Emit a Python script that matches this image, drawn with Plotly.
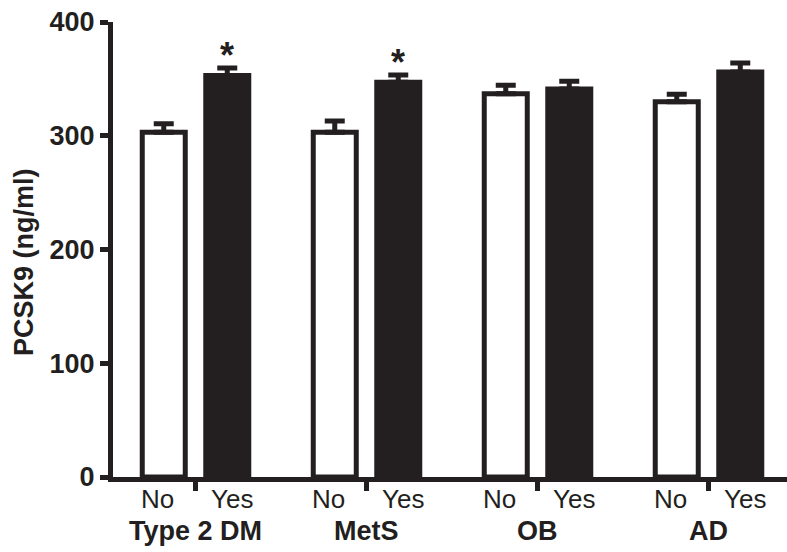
import plotly.graph_objects as go

# ---- data ----
groups = ["Type 2 DM", "MetS", "OB", "AD"]
subgroups = ["No", "Yes"]
no_values = [303, 303, 337, 330]
no_errors = [7.5, 10, 7.5, 6.5]
yes_values = [353, 347, 341, 356]
yes_errors = [6.5, 6.5, 7, 8]
significant = [True, True, False, False]
y_ticks = [0, 100, 200, 300, 400]
y_title = "PCSK9 (ng/ml)"

# ---- style ----
INK = "#231f20"
FONT = "Arial, Liberation Sans, sans-serif"
OFFSET = 0.1857   # half distance between No and Yes bar centres (group units)
BAR_W = 0.2515

gx = list(range(len(groups)))
x_no = [g - OFFSET for g in gx]
x_yes = [g + OFFSET for g in gx]

fig = go.Figure()
fig.add_trace(go.Bar(
    x=x_no, y=no_values, width=BAR_W,
    marker=dict(color="white", line=dict(color=INK, width=5)),
    error_y=dict(type="data", symmetric=False, array=no_errors,
                 arrayminus=[0] * len(no_errors), color=INK, thickness=5, width=10),
    showlegend=False,
))
fig.add_trace(go.Bar(
    x=x_yes, y=yes_values, width=BAR_W,
    marker=dict(color=INK, line=dict(color=INK, width=5)),
    error_y=dict(type="data", symmetric=False, array=yes_errors,
                 arrayminus=[0] * len(yes_errors), color=INK, thickness=5, width=10),
    showlegend=False,
))

annotations = [dict(x=0, y=0, xref="paper", yref="paper", text=y_title, textangle=-90,
                    showarrow=False, xanchor="center", yanchor="middle",
                    xshift=-89, yshift=215,
                    font=dict(family=FONT, size=27, color=INK, weight="bold"))]
for i, g in enumerate(groups):
    annotations.append(dict(x=x_no[i], y=0, xref="x", yref="paper", text=subgroups[0],
                            showarrow=False, xshift=-6, yshift=-22, yanchor="middle",
                            font=dict(family=FONT, size=26, color=INK)))
    annotations.append(dict(x=x_yes[i], y=0, xref="x", yref="paper", text=subgroups[1],
                            showarrow=False, xshift=5, yshift=-22, yanchor="middle",
                            font=dict(family=FONT, size=26, color=INK)))
    annotations.append(dict(x=gx[i], y=0, xref="x", yref="paper", text=g,
                            showarrow=False, yshift=-54, yanchor="middle",
                            font=dict(family=FONT, size=27, color=INK, weight="bold")))
    if significant[i]:
        annotations.append(dict(x=x_yes[i], y=yes_values[i] + yes_errors[i], xref="x", yref="y",
                                text="*", showarrow=False, yanchor="bottom", yshift=-10,
                                font=dict(family=FONT, size=36, color=INK, weight="bold")))

fig.update_layout(
    width=787, height=552,
    margin=dict(l=113, r=0, t=22, b=75),
    paper_bgcolor="white", plot_bgcolor="white",
    barmode="overlay",
    annotations=annotations,
    xaxis=dict(range=[-0.4825, 3.459], tickvals=gx, ticktext=["" for _ in gx],
               ticks="outside", ticklen=9, tickwidth=5, tickcolor=INK,
               showline=True, linewidth=5, linecolor=INK,
               showgrid=False, zeroline=False),
    yaxis=dict(range=[0, 400], tickvals=y_ticks,
               ticks="outside", ticklen=8, tickwidth=5, tickcolor=INK,
               showline=True, linewidth=5, linecolor=INK,
               showgrid=False, zeroline=False,
               tickfont=dict(family=FONT, size=27, color=INK, weight="bold")),
)

fig.write_html("out.html", config={"displayModeBar": False},
               post_script="document.body.style.margin='0';")
